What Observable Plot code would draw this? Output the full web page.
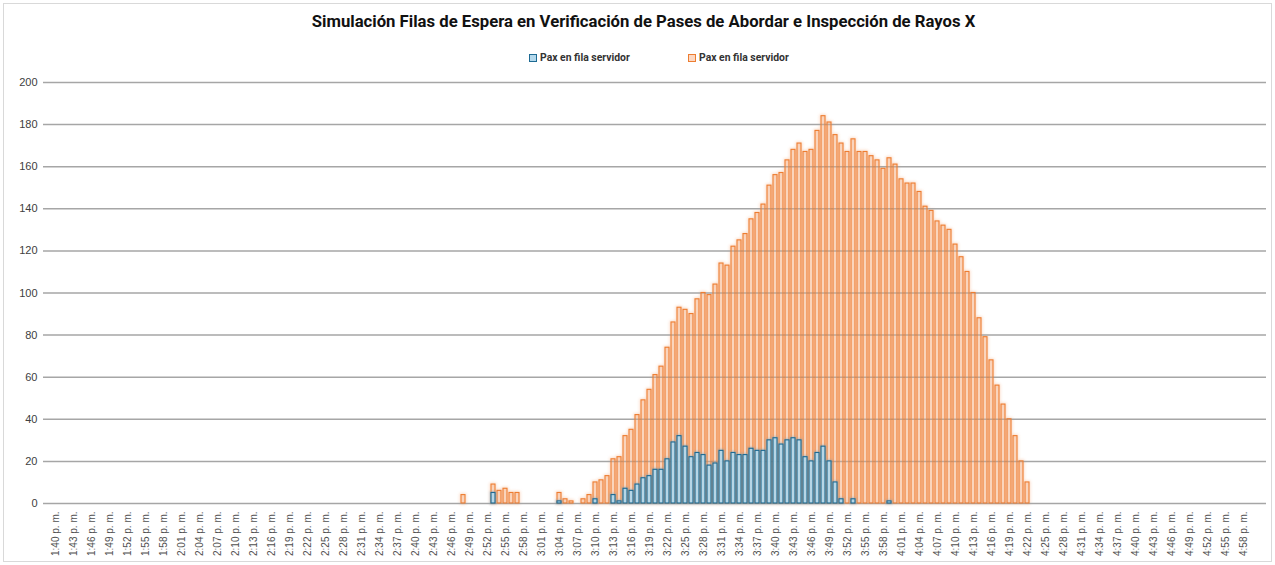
<!DOCTYPE html>
<html>
<head>
<meta charset="utf-8">
<script src="https://cdn.jsdelivr.net/npm/d3@7"></script>
<script src="https://cdn.jsdelivr.net/npm/@observablehq/plot@0.6"></script>
<style>
  body { margin: 0; background: #fff; }
  #frame { position: relative; width: 1275px; height: 565px; overflow: hidden; background: #fff; }
  #border { position: absolute; left: 3px; top: 3px; width: 1267px; height: 557px; border: 1px solid #d9d9d9; pointer-events: none; }
  #header { position: relative; height: 70px; }
  #title { position: absolute; top: 12px; left: 6px; width: 1275px; text-align: center;
           font-family: Roboto, "Liberation Sans", sans-serif; font-weight: bold; font-size: 16.7px; color: #111; }
  #legend { position: absolute; top: 51px; left: 0; width: 1275px; height: 14px; font-family: Roboto, "Liberation Sans", sans-serif;
            font-weight: bold; font-size: 10.4px; color: #333; }
  .item { position: absolute; top: 0; display: flex; align-items: center; gap: 3px; }
  .sw { width: 6px; height: 6px; border-width: 1.5px; border-style: solid; }
  #chart { position: absolute; left: 0; top: 70px; }
</style>
</head>
<body>
<div id="frame">
  <div id="header">
    <div id="title"></div>
    <div id="legend"></div>
  </div>
  <div id="chart"></div>
  <div id="border"></div>
</div>
<script>
// ---- data ----
const title = "Simulación Filas de Espera en Verificación de Pases de Abordar e Inspección de Rayos X";
const seriesNames = ["Pax en fila servidor", "Pax en fila servidor"];
const firstMinute = { hour: 1, minute: 40 };   // 1:40 p. m.
const minuteCount = 201;                        // 1:40 p. m. … 5:00 p. m.
const seriesStartIndex = 68;                    // 2:48 p. m.
// orange series, one value per minute from 2:48 p. m. to 4:22 p. m.
const orangeValues = [
  4, 0, 0, 0, 0, 9, 6, 7, 5, 5,
  0, 0, 0, 0, 0, 0, 5, 2, 1, 0, 2, 4,
  10, 11, 13, 21, 22, 32, 35, 42, 49, 54,
  61, 65, 74, 86, 93, 92, 90, 97, 100, 99,
  104, 114, 113, 122, 125, 128, 135, 138, 142, 151,
  156, 157, 163, 168, 171, 167, 168, 177, 184, 181,
  175, 171, 167, 173, 167, 167, 165, 163, 159, 164,
  161, 154, 152, 152, 148, 141, 139, 134, 132, 130,
  123, 117, 110, 100, 88, 79, 68, 56, 47, 40,
  32, 20, 10
];
// blue series, one value per minute from 2:48 p. m. to 3:59 p. m.
const blueValues = [
  0, 0, 0, 0, 0, 5, 0, 0, 0, 0,
  0, 0, 0, 0, 0, 0, 1, 0, 0, 0, 0, 0,
  2, 0, 0, 4, 1, 7, 6, 9, 12, 13,
  16, 16, 21, 29, 32, 27, 22, 24, 23, 18,
  19, 25, 20, 24, 23, 23, 26, 25, 25, 30,
  31, 28, 30, 31, 30, 22, 20, 24, 27, 20,
  10, 2, 0, 2, 0, 0, 0, 0, 0, 1
];
const yTicks = [0, 20, 40, 60, 80, 100, 120, 140, 160, 180, 200];
const colors = {
  orangeStroke: "#ed7d31", orangeFill: "#fcd8c3", orangeGlow: "#f8b68c",
  blueStroke: "#1d6a93", blueFill: "#b4d8eb", blueGlow: "#6f9db8"
};

// ---- categories ----
const categories = d3.range(minuteCount).map(i => {
  const total = firstMinute.hour * 60 + firstMinute.minute + i;
  const h = Math.floor(total / 60), m = total % 60;
  return `${h}:${String(m).padStart(2, "0")} p. m.`;
});
const tickLabels = categories.filter((d, i) => i % 3 === 0);

const orangeRows = orangeValues.map((v, i) => ({ label: categories[seriesStartIndex + i], value: v })).filter(d => d.value > 0);
const blueRows = blueValues.map((v, i) => ({ label: categories[seriesStartIndex + i], value: v })).filter(d => d.value > 0);

// ---- header ----
document.getElementById("title").textContent = title;
const legend = document.getElementById("legend");
[
  { name: seriesNames[0], left: 529, stroke: colors.blueStroke, fill: colors.blueFill },
  { name: seriesNames[1], left: 688, stroke: colors.orangeStroke, fill: colors.orangeFill }
].forEach(s => {
  const it = document.createElement("div");
  it.className = "item";
  it.style.left = s.left + "px";
  const sw = document.createElement("span");
  sw.className = "sw";
  sw.style.borderColor = s.stroke;
  sw.style.background = s.fill;
  const tx = document.createElement("span");
  tx.textContent = s.name;
  it.appendChild(sw); it.appendChild(tx);
  legend.appendChild(it);
});

// ---- chart ----
const chart = Plot.plot({
  width: 1275,
  height: 495,
  marginTop: 12,
  marginBottom: 62,
  marginLeft: 43,
  marginRight: 9,
  style: { fontFamily: "'Liberation Sans', Arial, sans-serif", color: "#595959", background: "transparent" },
  x: { type: "band", domain: categories, padding: 0.36, label: null, axis: null },
  y: { domain: [0, 200], label: null, axis: null },
  marks: [
    // soft glow layers (blurred outlines)
    Plot.barY(orangeRows, { x: "label", y: "value", fill: "none", stroke: colors.orangeGlow, strokeWidth: 2.5 }),
    Plot.ruleY(yTicks, { stroke: "#a6a6a6", strokeWidth: 1.5 }),
    Plot.barY(orangeRows, { x: "label", y: "value", fill: "#f6ad7e", fillOpacity: 0.3, stroke: colors.orangeStroke, strokeWidth: 1.1 }),
    Plot.barY(blueRows, { x: "label", y: "value", fill: "none", stroke: colors.blueGlow, strokeWidth: 2.5 }),
    Plot.barY(blueRows, { x: "label", y: "value", fill: colors.blueFill, fillOpacity: 0.9, stroke: colors.blueStroke, strokeWidth: 1.1 }),
    Plot.axisY({ ticks: yTicks, tickSize: 0, tickPadding: 6, fontSize: 11, label: null, fill: "#404040" }),
    Plot.axisX({ ticks: tickLabels, tickSize: 0, tickPadding: 8, tickRotate: -90, fontSize: 10, label: null, fill: "#505050" })
  ]
});
const bars = d3.select(chart).selectAll('g[aria-label="bar"]').nodes();
// glow layers are the 1st and 3rd bar groups
bars[0].style.filter = "blur(1.5px)";
bars[0].style.opacity = "0.55";
bars[2].style.filter = "blur(1.3px)";
bars[2].style.opacity = "0.5";
document.getElementById("chart").appendChild(chart);
</script>
</body>
</html>
